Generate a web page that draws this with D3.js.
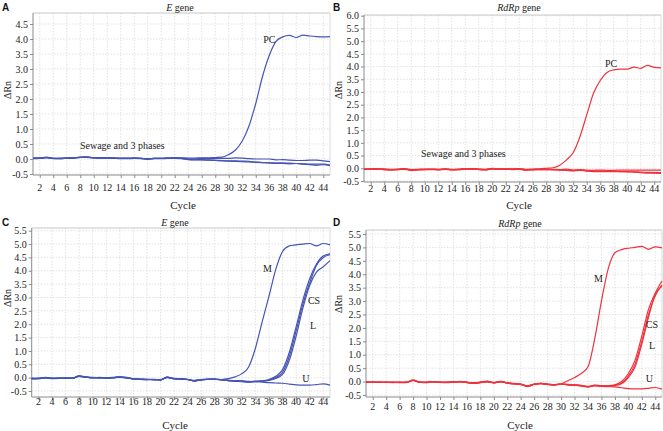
<!DOCTYPE html>
<html><head><meta charset="utf-8">
<script src="https://cdn.jsdelivr.net/npm/d3@7"></script>
<style>body{margin:0;background:#fff}svg{display:block}svg text{font-family:"Liberation Serif","Times New Roman",serif}</style>
</head><body>
<script>
// ---------- DATA ----------
const cycles = [1,2,3,4,5,6,7,8,9,10,11,12,13,14,15,16,17,18,19,20,21,22,23,24,25,26,27,28,29,30,31,32,33,34,35,36,37,38,39,40,41,42,43,44,45];
const xTickLabels = [2,4,6,8,10,12,14,16,18,20,22,24,26,28,30,32,34,36,38,40,42,44];
const yTicksA = [-0.5,0,0.5,1,1.5,2,2.5,3,3.5,4,4.5];
const yTicksB = [-0.5,0,0.5,1,1.5,2,2.5,3,3.5,4,4.5,5,5.5,6];
const yTicksCD = [-0.5,0,0.5,1,1.5,2,2.5,3,3.5,4,4.5,5,5.5];

// Panel A: E gene
const A_PC = [0.03,0.04,0.05,0.02,0.03,0.03,0.04,0.05,0.06,0.04,0.04,0.04,0.03,0.03,0.03,0.03,0.02,0.01,0.02,0.02,0.03,0.04,0.04,0.03,0.03,0.04,0.04,0.05,0.06,0.15,0.3,0.6,1.1,1.85,2.75,3.45,3.92,4.07,4.12,4.05,4.13,4.1,4.08,4.07,4.08];
const A_S1 = [0.02,0.03,0.06,0.02,0.01,0.03,0.04,0.06,0.05,0.04,0.04,0.03,0.03,0.02,0.02,0.03,0.02,0.0,0.02,0.02,0.03,0.04,0.03,0.0,0.0,0.02,0.02,0.02,0.02,0.02,0.04,0.03,0.01,0.0,0.0,0.0,-0.03,-0.02,-0.04,-0.05,-0.05,-0.04,-0.04,-0.06,-0.09];
const A_S2 = [0.01,0.02,0.04,0.01,0.01,0.02,0.03,0.05,0.06,0.04,0.03,0.03,0.02,0.01,0.01,0.02,0.01,-0.01,0.01,0.01,0.02,0.02,0.01,-0.02,-0.03,-0.03,-0.04,-0.05,-0.06,-0.06,-0.06,-0.07,-0.08,-0.1,-0.12,-0.13,-0.15,-0.15,-0.16,-0.15,-0.17,-0.19,-0.21,-0.19,-0.22];
const A_S3 = [0.03,0.03,0.05,0.02,0.02,0.03,0.04,0.06,0.07,0.05,0.04,0.04,0.03,0.02,0.02,0.03,0.02,0.0,0.02,0.02,0.03,0.03,0.02,-0.01,-0.02,-0.02,-0.03,-0.04,-0.05,-0.07,-0.08,-0.09,-0.1,-0.11,-0.12,-0.13,-0.13,-0.13,-0.14,-0.15,-0.16,-0.17,-0.17,-0.17,-0.2];

// Panel B: RdRp gene
const B_PC = [-0.03,-0.02,-0.02,-0.02,-0.04,-0.03,-0.01,-0.05,-0.04,-0.03,-0.03,-0.04,-0.02,-0.04,-0.03,-0.01,-0.02,-0.03,-0.04,0.0,-0.02,-0.02,-0.02,-0.01,-0.04,-0.03,-0.02,0.0,0.02,0.12,0.33,0.62,1.25,2.1,2.95,3.45,3.77,3.87,3.9,3.9,3.98,3.93,4.05,3.97,3.95];
const B_S1 = [-0.03,-0.03,-0.02,-0.05,-0.05,-0.04,-0.02,-0.07,-0.05,-0.04,-0.04,-0.05,-0.03,-0.05,-0.04,-0.02,-0.01,-0.04,-0.05,-0.01,-0.03,-0.03,-0.04,-0.02,-0.06,-0.05,-0.04,-0.03,-0.04,-0.05,-0.03,-0.07,-0.05,-0.07,-0.08,-0.07,-0.08,-0.08,-0.07,-0.07,-0.07,-0.07,-0.07,-0.07,-0.07];
const B_S2 = [-0.04,-0.03,-0.03,-0.05,-0.06,-0.05,-0.03,-0.08,-0.06,-0.05,-0.05,-0.06,-0.04,-0.06,-0.05,-0.03,-0.02,-0.05,-0.06,-0.02,-0.04,-0.04,-0.05,-0.03,-0.07,-0.06,-0.05,-0.05,-0.06,-0.07,-0.08,-0.1,-0.08,-0.11,-0.13,-0.13,-0.13,-0.13,-0.13,-0.14,-0.15,-0.17,-0.19,-0.19,-0.2];
const B_S3 = [-0.04,-0.04,-0.03,-0.04,-0.06,-0.05,-0.04,-0.07,-0.05,-0.05,-0.04,-0.05,-0.04,-0.05,-0.05,-0.03,-0.03,-0.04,-0.05,-0.03,-0.04,-0.03,-0.04,-0.04,-0.06,-0.05,-0.05,-0.05,-0.05,-0.06,-0.07,-0.08,-0.07,-0.1,-0.11,-0.11,-0.12,-0.12,-0.13,-0.13,-0.14,-0.15,-0.16,-0.17,-0.17];

// Panel C: E gene (M, CS, L, U)
const C_M  = [-0.04,-0.03,0.0,-0.03,-0.02,-0.02,-0.02,0.07,0.02,0.0,0.0,-0.01,0.0,0.02,0.0,-0.05,-0.06,-0.07,-0.07,-0.08,0.02,-0.04,-0.05,-0.07,-0.13,-0.08,-0.06,-0.05,-0.07,-0.04,0.03,0.15,0.4,1.1,2.1,3.05,4.05,4.72,4.93,4.97,5.0,5.02,4.93,5.02,4.97];
const C_CS = [-0.02,-0.03,0.01,-0.02,-0.03,-0.01,-0.02,0.05,0.01,0.01,-0.01,0.0,0.01,0.03,-0.01,-0.04,-0.05,-0.06,-0.08,-0.07,0.0,-0.03,-0.04,-0.06,-0.1,-0.07,-0.05,-0.06,-0.08,-0.1,-0.12,-0.13,-0.15,-0.13,-0.12,-0.07,0.05,0.3,0.95,1.9,2.9,3.7,4.25,4.55,4.63];
const C_L  = [-0.05,-0.04,-0.01,-0.03,-0.02,-0.03,-0.03,0.06,0.03,-0.01,0.0,-0.02,-0.01,0.01,-0.01,-0.06,-0.07,-0.08,-0.07,-0.09,0.01,-0.05,-0.06,-0.08,-0.12,-0.09,-0.07,-0.06,-0.09,-0.1,-0.13,-0.14,-0.16,-0.14,-0.13,-0.09,0.0,0.2,0.8,1.75,2.75,3.55,4.2,4.5,4.6];
const C_L2 = [-0.03,-0.04,0.0,-0.04,-0.03,-0.02,-0.01,0.06,0.02,0.0,-0.01,-0.01,0.0,0.02,0.01,-0.05,-0.06,-0.06,-0.08,-0.08,0.01,-0.04,-0.06,-0.07,-0.11,-0.08,-0.06,-0.05,-0.08,-0.12,-0.14,-0.15,-0.17,-0.15,-0.13,-0.1,-0.03,0.12,0.65,1.55,2.6,3.45,3.95,4.15,4.38];
const C_U  = [-0.04,-0.02,0.0,-0.03,-0.02,-0.02,-0.03,0.06,0.02,0.0,0.01,-0.01,0.0,0.02,0.0,-0.05,-0.06,-0.07,-0.06,-0.08,0.02,-0.04,-0.05,-0.07,-0.12,-0.08,-0.06,-0.06,-0.07,-0.1,-0.11,-0.12,-0.14,-0.15,-0.17,-0.19,-0.2,-0.21,-0.24,-0.27,-0.28,-0.28,-0.26,-0.23,-0.28];

// Panel D: RdRp gene (M, CS, L, U)
const D_M  = [-0.02,-0.02,-0.03,-0.03,-0.03,-0.03,-0.03,0.05,-0.02,-0.03,0.0,-0.03,-0.03,-0.01,0.0,-0.03,-0.06,-0.03,0.0,-0.04,0.0,-0.05,-0.08,-0.1,-0.18,-0.1,-0.07,-0.1,-0.12,-0.08,0.03,0.15,0.3,0.55,1.6,3.0,4.2,4.8,4.92,4.97,5.0,5.04,4.93,5.02,4.98];
const D_CS = [-0.01,-0.03,-0.02,-0.03,-0.04,-0.03,-0.02,0.04,-0.03,-0.02,-0.01,-0.03,-0.02,-0.02,0.01,-0.04,-0.05,-0.02,0.02,-0.05,0.01,-0.04,-0.07,-0.11,-0.16,-0.09,-0.08,-0.09,-0.11,-0.1,-0.1,-0.12,-0.14,-0.18,-0.13,-0.15,-0.15,-0.12,0.0,0.3,0.8,1.7,2.7,3.3,3.75];
const D_L  = [-0.03,-0.02,-0.03,-0.02,-0.03,-0.04,-0.03,0.06,-0.02,-0.04,0.0,-0.02,-0.03,-0.01,-0.01,-0.03,-0.07,-0.04,0.01,-0.03,-0.01,-0.05,-0.09,-0.1,-0.19,-0.11,-0.07,-0.1,-0.13,-0.1,-0.11,-0.13,-0.15,-0.2,-0.14,-0.16,-0.16,-0.14,-0.05,0.2,0.65,1.5,2.5,3.2,3.6];
const D_L2 = [-0.02,-0.03,-0.03,-0.03,-0.02,-0.03,-0.04,0.05,-0.03,-0.03,-0.01,-0.03,-0.04,-0.02,0.0,-0.02,-0.06,-0.03,0.0,-0.04,0.01,-0.06,-0.08,-0.09,-0.17,-0.1,-0.08,-0.11,-0.12,-0.09,-0.12,-0.13,-0.16,-0.19,-0.15,-0.17,-0.17,-0.15,-0.08,0.15,0.55,1.4,2.4,3.25,3.55];
const D_U  = [-0.02,-0.02,-0.02,-0.03,-0.03,-0.02,-0.03,0.04,-0.02,-0.03,0.0,-0.03,-0.03,-0.01,0.0,-0.03,-0.05,-0.03,-0.01,-0.04,0.0,-0.05,-0.08,-0.1,-0.17,-0.1,-0.07,-0.1,-0.11,-0.09,-0.12,-0.14,-0.16,-0.2,-0.15,-0.18,-0.19,-0.2,-0.23,-0.26,-0.27,-0.27,-0.25,-0.22,-0.28];

// Annotation labels (text, cycle, ΔRn)
const notesA = [["PC",35.1,3.87],["Sewage and 3 phases",7.95,0.33]];
const notesB = [["PC",36.7,3.98],["Sewage and 3 phases",9.45,0.44]];
const notesC = [["M",35.1,3.95],["CS",41.75,2.76],["L",42.05,1.82],["U",40.9,-0.16]];
const notesD = [["M",34.9,3.71],["CS",42.6,2.0],["L",43.05,1.21],["U",42.6,-0.02]];

// ---------- LAYOUT ----------
const W = 663, H = 431;
const BLUE = "#4655b4", RED = "#f0323c";
const SERIF = '"Liberation Serif","Times New Roman",serif';
const SANS = '"Liberation Sans",Arial,sans-serif';
const panels = [
  {letter:"A", gene:"E", series:[A_S1,A_S2,A_S3,A_PC], notes:notesA, yTicks:yTicksA, color:BLUE,
   xr:[33,330], yd:[-0.5,4.5], yr:[174,24], top:13, bottom:175,
   letterPos:[2,11], titlePos:[180,11], yLabPos:[11,90], tickY:191, cyclePos:[183,209]},
  {letter:"B", gene:"RdRp", series:[B_S1,B_S2,B_S3,B_PC], notes:notesB, yTicks:yTicksB, color:RED,
   xr:[364,661], yd:[-0.5,6], yr:[181,15.7], top:15, bottom:182,
   letterPos:[333,11], titlePos:[519,11], yLabPos:[342,90], tickY:192, cyclePos:[519,209]},
  {letter:"C", gene:"E", series:[C_U,C_L2,C_L,C_CS,C_M], notes:notesC, yTicks:yTicksCD, color:BLUE,
   xr:[31.7,330], yd:[-0.5,5.5], yr:[391,230.7], top:228, bottom:397,
   letterPos:[2,226], titlePos:[175,226], yLabPos:[11,298], tickY:405, cyclePos:[175,429]},
  {letter:"D", gene:"RdRp", series:[D_U,D_L2,D_L,D_CS,D_M], notes:notesD, yTicks:yTicksCD, color:RED,
   xr:[366,662], yd:[-0.5,5.5], yr:[395,234], top:230, bottom:397,
   letterPos:[333,226], titlePos:[520,227], yLabPos:[342,304], tickY:410, cyclePos:[520,429]}
];

const svg = d3.select("body").append("svg").attr("width",W).attr("height",H);

panels.forEach(p => {
  const x = d3.scaleLinear().domain([1,45]).range(p.xr);
  const y = d3.scaleLinear().domain(p.yd).range(p.yr);
  const g = svg.append("g");
  const L = p.xr[0], R = p.xr[1];

  // grid
  g.append("g").selectAll("line").data(xTickLabels).join("line")
    .attr("x1",d=>x(d)).attr("x2",d=>x(d)).attr("y1",p.top).attr("y2",p.bottom)
    .attr("stroke","#dadada").attr("stroke-width",0.8).attr("stroke-dasharray","1.5,1.5");
  g.append("g").selectAll("line").data(p.yTicks).join("line")
    .attr("x1",L).attr("x2",R).attr("y1",d=>y(d)).attr("y2",d=>y(d))
    .attr("stroke","#dadada").attr("stroke-width",0.8).attr("stroke-dasharray","1.5,1.5");
  // frame
  g.append("line").attr("x1",L).attr("x2",R).attr("y1",p.top).attr("y2",p.top).attr("stroke","#c8c8c8");
  g.append("line").attr("x1",R).attr("x2",R).attr("y1",p.top).attr("y2",p.bottom).attr("stroke","#dadada");

  // axes
  const yAxis = d3.axisLeft(y).tickValues(p.yTicks).tickFormat(d => d3.format(".1f")(d).replace("−","-")).tickSize(3).tickPadding(2);
  const ya = g.append("g").attr("transform",`translate(${L},0)`).call(yAxis);
  ya.attr("font-family",null);
  ya.select(".domain").attr("d",`M0,${p.top}V${p.bottom}`).attr("stroke","#8a8a8a");
  ya.selectAll(".tick line").attr("stroke","#8a8a8a");
  ya.selectAll("text").style("font-family",SERIF).style("font-size","10px").attr("fill","#222");

  const xAxis = d3.axisBottom(x).tickValues(xTickLabels).tickSize(3).tickFormat("");
  const xa = g.append("g").attr("transform",`translate(0,${p.bottom})`).call(xAxis);
  xa.select(".domain").attr("d",`M${L},0H${R}`).attr("stroke","#8a8a8a");
  xa.selectAll(".tick line").attr("stroke","#8a8a8a");
  g.append("g").selectAll("text").data(xTickLabels).join("text")
    .attr("x",d=>x(d)).attr("y",p.tickY).attr("text-anchor","middle")
    .style("font-family",SERIF).style("font-size","10px").attr("fill","#222").text(d=>d);

  // lines
  const line = d3.line().x((d,i)=>x(cycles[i])).y(d=>y(d)).curve(d3.curveMonotoneX);
  g.append("g").selectAll("path").data(p.series).join("path")
    .attr("d",line).attr("fill","none").attr("stroke",p.color).attr("stroke-width",1.2);

  // annotations
  g.append("g").selectAll("text").data(p.notes).join("text")
    .attr("x",d=>x(d[1])).attr("y",d=>y(d[2]))
    .style("font-family",SERIF).style("font-size","10px").attr("fill","#222").text(d=>d[0]);

  // titles & labels
  const t = g.append("text").attr("x",p.titlePos[0]).attr("y",p.titlePos[1]).attr("text-anchor","middle")
    .style("font-family",SERIF).style("font-size","10px").attr("fill","#222");
  t.append("tspan").style("font-style","italic").text(p.gene);
  t.append("tspan").text(" gene");
  g.append("text").attr("x",p.letterPos[0]).attr("y",p.letterPos[1])
    .style("font-family",SANS).style("font-weight","bold").style("font-size","10px")
    .attr("fill","#111").text(p.letter);
  g.append("text").attr("transform",`translate(${p.yLabPos[0]},${p.yLabPos[1]}) rotate(-90)`)
    .attr("text-anchor","middle").style("font-family",SERIF).style("font-size","10px").attr("fill","#222").text("ΔRn");
  g.append("text").attr("x",p.cyclePos[0]).attr("y",p.cyclePos[1]).attr("text-anchor","middle")
    .style("font-family",SERIF).style("font-size","11px").attr("fill","#222").text("Cycle");
});
</script>
</body></html>
